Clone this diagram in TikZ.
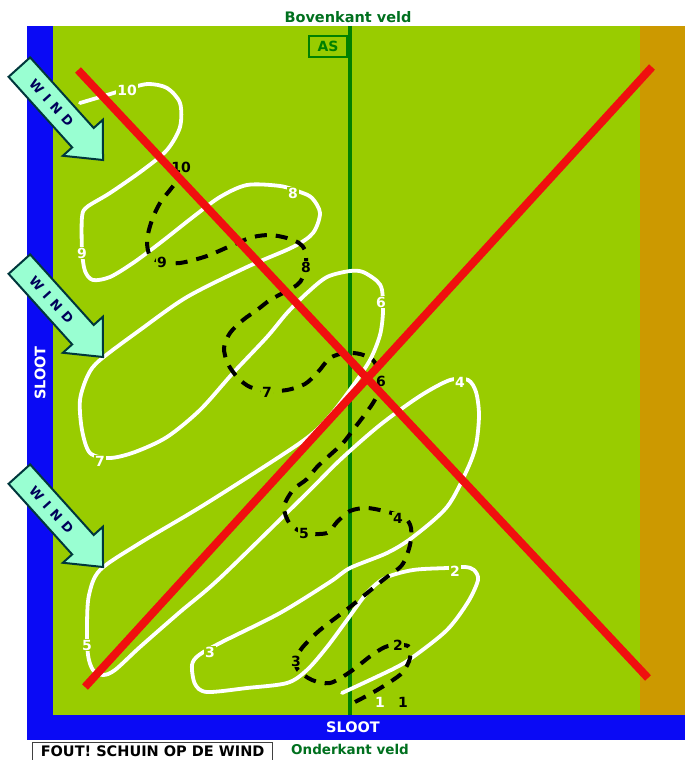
\documentclass[tikz,border=0pt]{standalone}
\usepackage{fontspec}
\setmainfont{DejaVu Sans}
\definecolor{veld}{RGB}{153,204,0}
\definecolor{zand}{RGB}{204,153,0}
\definecolor{sloot}{RGB}{10,10,245}
\definecolor{aslijn}{RGB}{0,128,0}
\definecolor{tekstgroen}{RGB}{0,112,30}
\definecolor{windvulling}{RGB}{153,255,210}
\definecolor{windrand}{RGB}{0,55,60}
\definecolor{windletter}{RGB}{0,0,90}
\definecolor{kruisrood}{RGB}{240,15,15}
\begin{document}
\begin{tikzpicture}[x=1pt, y=-1pt, font=\bfseries,
	wit/.style={white, line width=3.8pt, line cap=round},
	zwart/.style={black, line width=4pt, dash pattern=on 12pt off 9pt},
	nrwit/.style={text=white, fill=veld, inner sep=0.8pt, font=\bfseries\fontsize{14}{16}\selectfont},
	nrzwart/.style={text=black, fill=veld, inner sep=0.8pt, font=\bfseries\fontsize{14}{16}\selectfont},
	kruis/.style={kruisrood, line width=8pt},
	windpijl/.style={fill=windvulling, draw=windrand, line width=2pt, line join=miter},
	windtekst/.style={text=windletter, font=\bfseries\fontsize{13}{14}\selectfont}]
	\useasboundingbox (0,0) rectangle (694,760);
	% 1. Sloten, veld en rand
	\fill[sloot] (27,26) rectangle (53,740);
	\fill[sloot] (27,715) rectangle (685,740);
	\fill[veld] (53,26) rectangle (640,715);
	\fill[zand] (640,26) rectangle (685,715);
	% 2. Middenas
	\draw[aslijn, line width=3.5pt] (350,26) -- (350,715);
	\node[draw=aslijn, line width=2.5pt, minimum width=38pt, minimum height=21pt, inner sep=0pt,
		text=aslijn, font=\bfseries\fontsize{14}{15}\selectfont] (as) at (328,46.5) {AS};
	% 3. Teksten rond het veld
	\node[text=tekstgroen, font=\bfseries\fontsize{14.5}{16}\selectfont] (boven) at (348,17) {Bovenkant veld};
	\node[text=tekstgroen, font=\bfseries\fontsize{13.5}{15}\selectfont] (onder) at (350,749) {Onderkant veld};
	\node[text=white, font=\bfseries\fontsize{14.5}{16}\selectfont] (slootonder) at (353,727.5) {SLOOT};
	\node[text=white, rotate=90, font=\bfseries\fontsize{14.5}{16}\selectfont] (slootlinks) at (40,373) {SLOOT};
	\node[draw=black!75, fill=white, line width=1.2pt, anchor=north west, minimum width=240pt, minimum height=18pt,
		inner sep=0.5pt, text depth=0pt, font=\bfseries\fontsize{14.5}{15}\selectfont] (fout) at (32,741.5) {FOUT! SCHUIN OP DE WIND};
	% 4. Witte lijn (1 t/m 10)
	\draw[wit] plot[smooth, tension=0.5] coordinates {
		(342,693) (393,669) (413,657) (447,630) (468,602) (478,580) (474,570) (465,567)
		(447,568) (413,570) (385,578) (367,593) (347,620) (327,647) (307,670) (287,683)
		(247,688) (207,692) (195,684) (192,665) (199,655) (222,642) (280,613) (330,582)
		(350,568) (387,553) (413,537) (447,507) (467,470) (476,445) (479,415) (476,392)
		(468,380) (450,380) (420,396) (380,425) (340,460) (305,495) (220,578) (180,612)
		(140,647) (115,670) (103,675) (93,670) (88,655) (87,625) (89,595) (100,570)
		(140,543) (207,503) (300,443) (328,418) (352,387) (370,360) (380,335) (383,312)
		(382,290) (377,281) (363,272) (350,271) (327,277) (307,293) (287,313) (267,337)
		(233,373) (200,410) (167,437) (135,452) (110,458) (90,453) (82,430) (80,400)
		(88,375) (100,360) (140,330) (187,297) (247,267) (293,247) (313,233) (320,213)
		(312,198) (300,192) (280,186) (247,185) (220,197) (193,217) (160,243) (133,263)
		(110,277) (93,280) (85,271) (82,250) (82,217) (87,207) (110,193) (143,170)
		(167,150) (180,127) (180,103) (167,88) (148,84) (127,89) (107,95) (80,103)};
	% 5. Zwarte stippellijn (1 t/m 10)
	\draw[zwart] plot[smooth, tension=0.5] coordinates {
		(355,702) (372,693) (390,682) (403,672) (410,658) (408,646) (388,646) (372,655)
		(350,672) (330,683) (312,680) (298,670) (296,660) (302,648) (320,630) (350,607)
		(383,580) (402,565) (410,545) (411,528) (405,518) (388,512) (367,508) (350,511)
		(337,522) (327,533) (305,533) (290,524) (284,507) (293,490) (307,479) (317,467)
		(330,455) (343,443) (353,430) (363,417) (373,403) (379,390) (378,372) (373,360)
		(360,354) (345,353) (330,358) (318,372) (305,384) (287,390) (267,391) (250,387)
		(238,378) (228,364) (224,348) (230,333) (243,320) (257,310) (270,300) (283,293)
		(297,285) (303,277) (306,262) (305,250) (299,243) (287,238) (270,235) (253,237)
		(237,243) (207,256) (180,263) (162,262) (150,256) (147,240) (152,220) (160,203)
		(170,190) (178,180)};
	% 6. Nummers
	\node[nrwit] (w1) at (380,702) {1};
	\node[nrwit] (w2) at (455,571) {2};
	\node[nrwit] (w3) at (210,652) {3};
	\node[nrwit] (w4) at (460,382) {4};
	\node[nrwit] (w5) at (87,645) {5};
	\node[nrwit] (w6) at (381,302) {6};
	\node[nrwit] (w7) at (100,461) {7};
	\node[nrwit] (w8) at (293,193) {8};
	\node[nrwit] (w9) at (82,253) {9};
	\node[nrwit] (w10) at (127,90) {10};
	\node[nrzwart] (z1) at (403,702) {1};
	\node[nrzwart] (z2) at (398,645) {2};
	\node[nrzwart] (z3) at (296,661) {3};
	\node[nrzwart] (z4) at (398,518) {4};
	\node[nrzwart] (z5) at (304,533) {5};
	\node[nrzwart] (z6) at (381,381) {6};
	\node[nrzwart] (z7) at (267,392) {7};
	\node[nrzwart] (z8) at (306,267) {8};
	\node[nrzwart] (z9) at (162,262) {9};
	\node[nrzwart] (z10) at (181,167) {10};
	% 7. Windpijlen
	\foreach \ty [count=\i] in {160,357,567} {
		\begin{scope}[shift={(103,\ty)}, rotate=-48]
			\draw[windpijl] (0,0) -- (-30,-27) -- (-30,-14.5) -- (-125,-14.5) -- (-125,14.5) -- (-30,14.5) -- (-30,27) -- cycle;
			\node[windtekst, rotate=-48] (wind\i) at (-77,0) {W\hspace{6pt}I\hspace{6pt}N\hspace{6pt}D};
		\end{scope}
	}
	% 8. Rood kruis
	\coordinate (kruisa) at (78,70);
	\coordinate (kruisb) at (648,678);
	\coordinate (kruisc) at (85,687);
	\coordinate (kruisd) at (652,67);
	\draw[kruis] (kruisa) -- (kruisb);
	\draw[kruis] (kruisc) -- (kruisd);
\end{tikzpicture}
\end{document}
